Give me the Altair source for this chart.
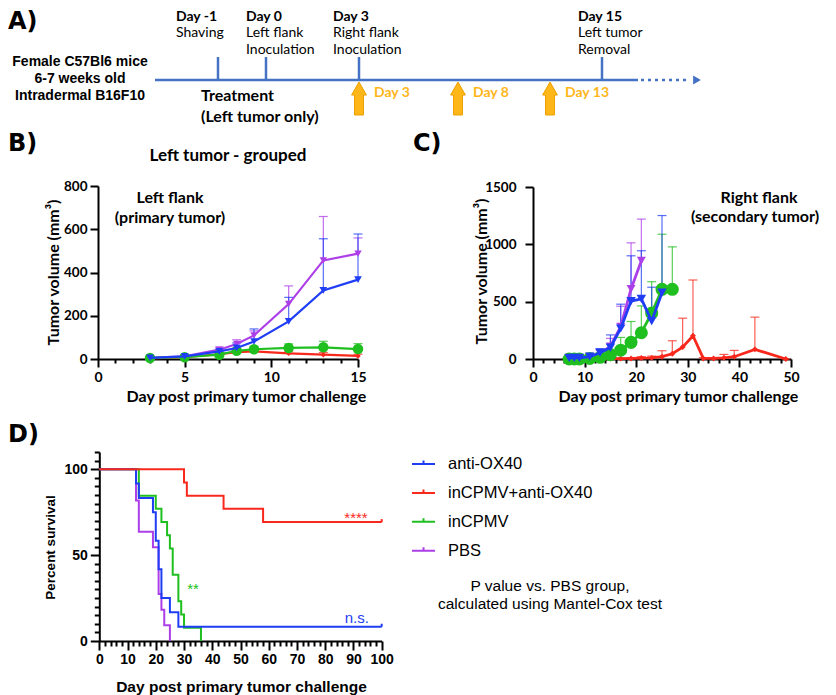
import altair as alt
import pandas as pd

OFF = 8          # page margin = plot origin (padding 0, autosize none)
W, H = 820, 687

GROUPS = ["anti-OX40", "inCPMV+anti-OX40", "inCPMV", "PBS"]
COLORS = ["#1f3df5", "#f9281c", "#20bf20", "#ad3fe8"]
TL_BLUE = "#4472c4"
ORANGE = "#ffb619"

# ---------------- Panel A : timeline ----------------
event_days = [-1, 0, 3, 15]
event_heads = ["Day -1", "Day 0", "Day 3", "Day 15"]
event_line1 = ["Shaving", "Left flank", "Right flank", "Left tumor"]
event_line2 = ["", "Inoculation", "Inoculation", "Removal"]
treat_days = [3, 8, 13]
treat_labels = ["Day 3", "Day 8", "Day 13"]
mouse_lines = ["Female C57Bl6 mice", "6-7 weeks old", "Intradermal B16F10"]

# ---------------- Panel B : left tumor (mean, mean+SEM) ----------------
b_days = [3, 5, 7, 8, 9, 11, 13, 15]
b_anti = [5, 12, 35, 51, 81, 174, 317, 367]
b_anti_hi = [8, 18, 45, 74, 139, 285, 556, 578]
b_combo = [3, 8, 22, 32, 35, 26, 20, 14]
b_combo_hi = [6, 12, 30, 42, 45, 36, 30, 22]
b_incpmv = [5, 8, 20, 38, 45, 51, 54, 46]
b_incpmv_hi = [8, 12, 28, 48, 58, 70, 82, 71]
b_pbs = [5, 12, 43, 69, 109, 254, 456, 487]
b_pbs_hi = [8, 18, 55, 89, 130, 338, 659, 560]

# ---------------- Panel C : right tumor ----------------
c_anti_days = [7, 8, 9, 11, 13, 15, 17, 19, 21, 23, 25]
c_anti = [10, 10, 10, 20, 55, 100, 266, 505, 525, 330, 578]
c_anti_hi = [15, 15, 15, 30, 90, 210, 478, 900, 944, 626, 1251]
c_combo_days = [7, 8, 9, 11, 13, 15, 17, 19, 21, 23, 25, 27, 29, 31, 33, 35, 37, 39, 43, 49]
c_combo = [0, 0, 0, 0, 1, 3, 3, 5, 8, 10, 20, 46, 104, 203, 5, 5, 10, 20, 84, 0]
c_combo_hi = [0, 0, 0, 0, 3, 8, 8, 12, 20, 25, 72, 159, 356, 689, 12, 12, 40, 75, 365, 0]
c_incpmv_days = [7, 8, 9, 11, 13, 15, 17, 19, 21, 23, 25, 27]
c_incpmv = [0, 0, 0, 5, 15, 38, 77, 145, 229, 400, 608, 608]
c_incpmv_hi = [3, 3, 3, 10, 30, 70, 188, 327, 463, 674, 1088, 978]
c_pbs_days = [7, 8, 9, 11, 13, 15, 17, 19, 21]
c_pbs = [10, 10, 10, 20, 50, 110, 283, 611, 857]
c_pbs_hi = [15, 15, 15, 30, 80, 180, 460, 1013, 1220]

# ---------------- Panel D : survival ----------------
d_anti_t = [0, 13, 14, 19, 20, 21, 22, 25, 28, 100]
d_anti_s = [100, 91.7, 83.3, 75.0, 58.3, 41.7, 25.0, 16.7, 8.3, 8.3]
d_combo_t = [0, 30, 31, 44, 58, 100]
d_combo_s = [100, 92.3, 84.6, 76.9, 69.2, 69.2]
d_incpmv_t = [0, 14, 20, 22, 24, 25, 26, 28, 29, 30, 36]
d_incpmv_s = [100, 84.6, 76.9, 69.2, 61.5, 53.8, 38.5, 23.1, 15.4, 7.7, 0]
d_pbs_t = [0, 13, 14, 19, 21, 22, 23, 25]
d_pbs_s = [100, 81.8, 63.6, 54.5, 27.3, 18.2, 9.1, 0]
d_ann_text = ["****", "**", "n.s."]
d_ann_group = ["inCPMV+anti-OX40", "inCPMV", "anti-OX40"]
d_ann_x = [90.9, 33.2, 91.2]
d_ann_y = [71.5, 30.0, 13.5]

# ------------------------------------------------------------------
def P(v):
    return v - OFF

cscale = alt.Scale(domain=GROUPS, range=COLORS)

def txt(s, x, y, size, weight="normal", font="Lato", color="black",
        align="center", baseline="middle", angle=0):
    return alt.Chart(pd.DataFrame({"t": [s]})).mark_text(
        align=align, baseline=baseline, font=font, fontSize=size,
        fontWeight=weight, color=color, angle=angle
    ).encode(x=alt.value(P(x)), y=alt.value(P(y)), text="t:N")

def xaxis(values, major, offset, title, tx, ty, font, lsize, tsize, lpad):
    return alt.Axis(orient="bottom", offset=offset, values=values, format="d",
                    tickSize=major, tickWidth=2, tickColor="black",
                    domainColor="black", domainWidth=2, grid=False,
                    labelFont=font, labelFontSize=lsize, labelFontWeight="bold",
                    labelColor="black", labelPadding=lpad, labelFlush=False,
                    labelOverlap=False, title=title, titleFont=font,
                    titleFontSize=tsize, titleFontWeight="bold", titleColor="black",
                    titleX=tx, titleY=ty, titleBaseline="middle", titleAlign="center")

def yaxis(values, major, offset, title, tx, ty, font, lsize, tsize, lpad):
    return alt.Axis(orient="left", offset=offset, values=values, format="d",
                    tickSize=major, tickWidth=2, tickColor="black",
                    domainColor="black", domainWidth=2, grid=False,
                    labelFont=font, labelFontSize=lsize, labelFontWeight="bold",
                    labelColor="black", labelPadding=lpad,
                    labelOverlap=False, title=title, titleFont=font,
                    titleFontSize=tsize, titleFontWeight="bold", titleColor="black",
                    titleX=tx, titleY=ty, titleBaseline="middle", titleAlign="center",
                    titleAngle=270)

def minor_axis(orient, values, size, offset):
    return alt.Axis(orient=orient, offset=offset, values=values, tickSize=size,
                    tickWidth=2, tickColor="black", domain=False, labels=False,
                    grid=False, title=None)

# ---------------- Panel A layers ----------------
tl_scale = alt.Scale(domain=[-1, 0, 3, 8, 13, 15],
                     range=[P(218), P(266), P(359), P(458), P(550), P(602)],
                     nice=False, zero=False)
ev = pd.DataFrame({"day": event_days, "head": event_heads, "l1": event_line1, "l2": event_line2})
tr = pd.DataFrame({"day": treat_days, "lab": treat_labels})
xA = alt.X("day:Q", scale=tl_scale, axis=None)
ARROW = "M0,-1L0.45,-0.21L0.27,-0.21L0.27,1L-0.27,1L-0.27,-0.21L-0.45,-0.21Z"

a_layers = [
    alt.Chart(ev).mark_rule(color=TL_BLUE, strokeWidth=2.5).encode(
        x=xA, y=alt.value(P(57)), y2=alt.value(P(80))),
    alt.Chart(tr).mark_point(shape=ARROW, size=1089, filled=True, fill=ORANGE,
                             stroke="#eea000", strokeWidth=1, opacity=1).encode(
        x=xA, y=alt.value(P(98.5))),
    alt.Chart(tr).mark_text(align="left", baseline="middle", dx=15, font="Lato",
                            fontSize=14, fontWeight="bold", color=ORANGE).encode(
        x=xA, y=alt.value(P(93)), text="lab:N"),
]
ev_dx = [-42, -20, -26, -24]
for i in range(len(event_days)):
    sub = ev.iloc[[i]]
    a_layers.append(alt.Chart(sub).mark_text(align="left", baseline="alphabetic", dx=ev_dx[i],
                    font="Lato", fontSize=14, fontWeight="bold", color="black").encode(
        x=xA, y=alt.value(P(21)), text="head:N"))
    a_layers.append(alt.Chart(sub).mark_text(align="left", baseline="alphabetic", dx=ev_dx[i],
                    font="Lato", fontSize=14, color="black").encode(
        x=xA, y=alt.value(P(37)), text="l1:N"))
    a_layers.append(alt.Chart(sub).mark_text(align="left", baseline="alphabetic", dx=ev_dx[i],
                    font="Lato", fontSize=14, color="black").encode(
        x=xA, y=alt.value(P(54)), text="l2:N"))
panelA = alt.layer(*a_layers)

a_deco = [
    alt.Chart(pd.DataFrame({"k": [0]})).mark_rule(color=TL_BLUE, strokeWidth=2.5).encode(
        x=alt.value(P(155)), x2=alt.value(P(638)), y=alt.value(P(80))),
    alt.Chart(pd.DataFrame({"k": [0]})).mark_rule(color=TL_BLUE, strokeWidth=2.5,
                                                  strokeDash=[3, 4]).encode(
        x=alt.value(P(641)), x2=alt.value(P(690)), y=alt.value(P(80))),
    alt.Chart(pd.DataFrame({"k": [0]})).mark_point(shape="triangle-right", filled=True,
                                                   size=80, color=TL_BLUE, opacity=1).encode(
        x=alt.value(P(697)), y=alt.value(P(80))),
    txt("Treatment", 201, 96, 16, "bold", align="left"),
    txt("(Left tumor only)", 201, 117, 16, "bold", align="left"),
]
for j, s in enumerate(mouse_lines):
    a_deco.append(txt(s, 80, 62 + 17 * j, 14, "bold", font="Liberation Sans"))

# ---------------- growth panels ----------------
SHAPES = ["triangle-down", "diamond", "circle", "triangle-down"]
ORDER = [1, 3, 2, 0]   # red, purple, green, blue (blue on top)

def growth_panel(days, means, his, xs, ys, xax, yax, xminor, sizes, lw):
    dfs = {gi: pd.DataFrame({"day": days[gi], "mean": means[gi], "hi": his[gi],
                             "g": GROUPS[gi]}) for gi in ORDER}
    c = alt.Color("g:N", scale=cscale, legend=None)
    layers = [
        # minor ticks (same scales, own axis)
        alt.Chart(dfs[ORDER[0]]).mark_point(opacity=0).encode(
            x=alt.X("day:Q", scale=xs, axis=xminor),
            y=alt.Y("mean:Q", scale=ys, axis=None)),
    ]
    first = True
    for gi in ORDER:
        df = dfs[gi]
        layers.append(alt.Chart(df).mark_rule(strokeWidth=1.2, opacity=0.75).encode(
            x=alt.X("day:Q", scale=xs, axis=xax if first else None),
            y=alt.Y("mean:Q", scale=ys, axis=yax if first else None),
            y2="hi:Q", color=c))
        layers.append(alt.Chart(df).mark_point(shape="stroke", size=80, filled=False,
                                               strokeWidth=1.2, opacity=0.75).encode(
            x=alt.X("day:Q", scale=xs, axis=None),
            y=alt.Y("hi:Q", scale=ys, axis=None), color=c))
        first = False
    for gi in ORDER:
        df = dfs[gi]
        x = alt.X("day:Q", scale=xs, axis=None)
        y = alt.Y("mean:Q", scale=ys, axis=None)
        layers.append(alt.Chart(df).mark_line(strokeWidth=lw).encode(x=x, y=y, color=c))
        layers.append(alt.Chart(df).mark_point(shape=SHAPES[gi], size=sizes[gi], filled=True,
                                               opacity=1).encode(x=x, y=y, color=c))
    return alt.layer(*layers).resolve_axis(x="independent", y="independent")

GF = "Lato"
bxs = alt.Scale(domain=[0, 15], range=[P(98), P(358)], nice=False, zero=False)
bys = alt.Scale(domain=[0, 800], range=[P(359), P(186)], nice=False, zero=False)
bx_ax = xaxis([0, 5, 10, 15], 8, P(359) - H, "Day post primary tumor challenge",
              P(246), 37, GF, 14, 16, 3)
by_ax = yaxis([0, 200, 400, 600, 800], 8, -P(98), "Tumor volume (mm³)",
              53 - 98, P(272), GF, 13.5, 16, 3)
bx_min = minor_axis("bottom", [d for d in range(0, 16) if d % 5], 4, P(359) - H)
panelB = growth_panel([b_days] * 4, [b_anti, b_combo, b_incpmv, b_pbs],
                      [b_anti_hi, b_combo_hi, b_incpmv_hi, b_pbs_hi],
                      bxs, bys, bx_ax, by_ax, bx_min, [60, 30, 110, 55], 2.2)

cxs = alt.Scale(domain=[0, 50], range=[P(533), P(791)], nice=False, zero=False)
cys = alt.Scale(domain=[0, 1500], range=[P(359), P(187)], nice=False, zero=False)
cx_ax = xaxis([0, 10, 20, 30, 40, 50], 8, P(359) - H, "Day post primary tumor challenge",
              P(678), 37, GF, 14, 16, 3)
cy_ax = yaxis([0, 500, 1000, 1500], 8, -P(533), "Tumor volume (mm³)",
              481 - 533, P(271), GF, 13.5, 16, 9)
cx_min = minor_axis("bottom", [d for d in range(0, 51, 2) if d % 10], 4, P(359) - H)
panelC = growth_panel([c_anti_days, c_combo_days, c_incpmv_days, c_pbs_days],
                      [c_anti, c_combo, c_incpmv, c_pbs],
                      [c_anti_hi, c_combo_hi, c_incpmv_hi, c_pbs_hi],
                      cxs, cys, cx_ax, cy_ax, cx_min, [90, 35, 170, 80], 2.8)

# ---------------- Panel D : survival ----------------
DF = "Liberation Sans"
dxs = alt.Scale(domain=[0, 100], range=[P(99.3), P(381.7)], nice=False, zero=False)
dys = alt.Scale(domain=[0, 110], range=[P(641), P(452)], nice=False, zero=False)
dx_ax = xaxis(list(range(0, 101, 10)), 9, P(641) - H, "Day post primary tumor challenge",
              P(241), 45, DF, 14, 15.5, 2)
dy_ax = yaxis([0, 50, 100], 9, -P(99.3), "Percent survival",
              50 - 99.3, P(547), DF, 14, 13.5, 3)
dx_min = minor_axis("bottom", [d for d in range(0, 101, 2) if d % 10], 5, P(641) - H)
dy_min = minor_axis("left", [d for d in range(0, 111, 5) if d % 50], 5, -P(99.3))
curves = {0: (d_anti_t, d_anti_s), 1: (d_combo_t, d_combo_s),
          2: (d_incpmv_t, d_incpmv_s), 3: (d_pbs_t, d_pbs_s)}
legend = alt.Legend(orient="none", legendX=P(411), legendY=P(463) - 11.5, title=None,
                    direction="vertical", symbolType="M-1,0H1M0,0V-0.3", symbolSize=529,
                    symbolStrokeWidth=2, labelFont=DF, labelFontSize=16.5, labelColor="black",
                    labelOffset=12, rowPadding=7.9, labelLimit=300)
d_layers = [
    alt.Chart(pd.DataFrame({"t": d_anti_t, "s": d_anti_s})).mark_point(opacity=0).encode(
        x=alt.X("t:Q", scale=dxs, axis=dx_min), y=alt.Y("s:Q", scale=dys, axis=dy_min)),
]
first = True
for gi in [3, 2, 0, 1]:
    t, s = curves[gi]
    df = pd.DataFrame({"t": t, "s": s, "g": GROUPS[gi]})
    col = alt.Color("g:N", scale=cscale, legend=legend) if first else \
        alt.Color("g:N", scale=cscale)
    d_layers.append(alt.Chart(df).mark_line(interpolate="step-after", strokeWidth=2).encode(
        x=alt.X("t:Q", scale=dxs, axis=dx_ax if first else None),
        y=alt.Y("s:Q", scale=dys, axis=dy_ax if first else None),
        color=col))
    first = False
# censor marks at the end of surviving curves
cens = pd.DataFrame({"t": [d_anti_t[-1], d_combo_t[-1]], "s": [d_anti_s[-1], d_combo_s[-1]],
                     "g": [GROUPS[0], GROUPS[1]]})
d_layers.append(alt.Chart(cens).mark_point(shape="M0,0L0,-1", size=36, filled=False,
                                           strokeWidth=2, opacity=1).encode(
    x=alt.X("t:Q", scale=dxs, axis=None), y=alt.Y("s:Q", scale=dys, axis=None),
    color=alt.Color("g:N", scale=cscale)))
ann = pd.DataFrame({"t": d_ann_x, "s": d_ann_y, "txt": d_ann_text, "g": d_ann_group})
d_layers.append(alt.Chart(ann).mark_text(font=DF, fontSize=15, align="center",
                                         baseline="middle").encode(
    x=alt.X("t:Q", scale=dxs, axis=None), y=alt.Y("s:Q", scale=dys, axis=None),
    text="txt:N", color=alt.Color("g:N", scale=cscale)))
panelD = alt.layer(*d_layers).resolve_axis(x="independent", y="independent")

# ---------------- annotations ----------------
deco = a_deco + [
    txt("A)", 8, 10, 24, "bold", font="DejaVu Sans", align="left", baseline="top"),
    txt("B)", 8, 144, 24, "bold", font="DejaVu Sans", align="left"),
    txt("C)", 413, 144, 24, "bold", font="DejaVu Sans", align="left"),
    txt("D)", 8, 435, 24, "bold", font="DejaVu Sans", align="left"),
    txt("Left tumor - grouped", 228, 156, 17, "bold", font=GF),
    txt("Left flank", 170, 198, 16, "bold", font=GF),
    txt("(primary tumor)", 170, 218, 16, "bold", font=GF),
    txt("Right flank", 759, 198, 16, "bold", font=GF),
    txt("(secondary tumor)", 755, 217, 16, "bold", font=GF),
    txt("P value vs. PBS group,", 550, 586, 15.5, font=DF),
    txt("calculated using Mantel-Cox test", 550, 604, 15.5, font=DF),
]

chart = alt.layer(panelA, panelB, panelC, panelD, *deco).resolve_scale(
    x="independent", y="independent"
).resolve_legend(color="independent").properties(
    width=W, height=H, padding=0, autosize=alt.AutoSizeParams(type="none")
).configure_view(stroke=None)

chart.save("out.html", embed_options={"renderer": "svg", "actions": False})
